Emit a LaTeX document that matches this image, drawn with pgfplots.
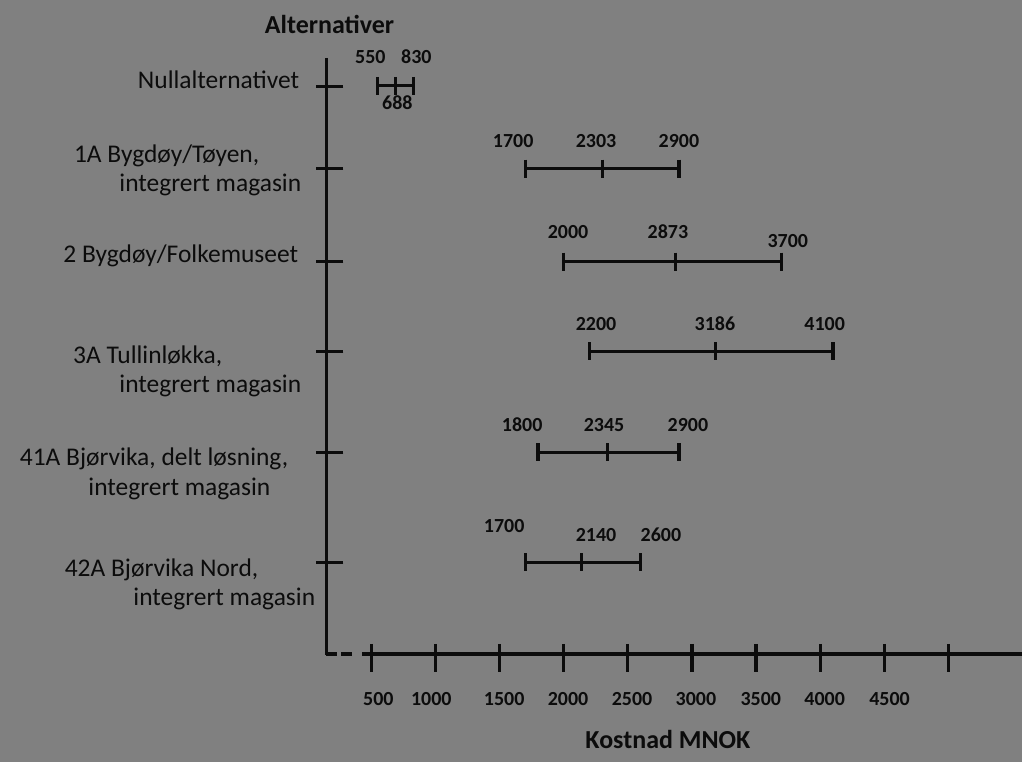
\documentclass[border=0pt]{standalone}
\usepackage{pgfplots}
\pgfplotsset{compat=1.18}
\usepackage{fontspec}
\setmainfont{Carlito}
\definecolor{bg}{RGB}{128,128,128}
\definecolor{ink}{RGB}{12,12,12}
\newcommand{\PX}[1]{((#1)-307.5)/0.1285}
\tikzset{
  rangebar/.style={ink, line width=1.6pt, mark=|, mark size=4.5pt, mark options={solid, line width=1.6pt}},
  catlbl/.style={anchor=base east, inner sep=0pt, text=ink, font=\fontsize{12.75}{15}\selectfont},
  vallbl/.style={anchor=base, inner sep=0pt, text=ink, font=\bfseries\fontsize{10}{12}\selectfont},
  ttl/.style={anchor=base west, inner sep=0pt, text=ink, font=\bfseries\fontsize{13}{15}\selectfont},
}
\begin{document}
\begin{tikzpicture}
\begin{axis}[
  scale only axis, width=512pt, height=381.5pt,
  xmin=-2393, xmax=5576, ymin=0, ymax=763, y dir=reverse,
  hide axis, clip=false,
]
\fill[bg] (rel axis cs:0,0) rectangle (rel axis cs:1,1);

% axis lines
\addplot[ink, line width=1.6pt] coordinates {(151.75,58) (151.75,656)};
\addplot[ink, line width=1.6pt, dash pattern=on 5.5pt off 2pt] coordinates {(151.75,655) (354,655)};
\addplot[ink, line width=1.6pt] coordinates {(432,655) (5576,655)};
\addplot[ink, only marks, mark=|, mark size=7pt, mark options={line width=1.6pt}] coordinates {
(500,659) (1000,659) (1500,659) (2000,659) (2500,659) (3000,659) (3500,659) (4000,659) (4500,659) (5000,659)};
\addplot[ink, only marks, mark=-, mark size=7pt, mark options={line width=1.6pt}] coordinates {
(175.1,87) (175.1,169) (175.1,262) (175.1,352) (175.1,453) (175.1,563)};

% cost ranges (low, expected, high)
\addplot[rangebar] coordinates {(550,86) (688,86) (830,86)};
\addplot[rangebar] coordinates {(1700,169) (2303,169) (2900,169)};
\addplot[rangebar] coordinates {(2000,262) (2873,262) (3700,262)};
\addplot[rangebar] coordinates {(2200,352) (3186,352) (4100,352)};
\addplot[rangebar] coordinates {(1800,453) (2345,453) (2900,453)};
\addplot[rangebar] coordinates {(1700,563) (2140,563) (2600,563)};

% value labels
\node[vallbl] at (axis cs:{\PX{371}},64) {550};
\node[vallbl] at (axis cs:{\PX{417}},64) {830};
\node[vallbl] at (axis cs:{\PX{398}},110) {688};
\node[vallbl] at (axis cs:{\PX{514}},148) {1700};
\node[vallbl] at (axis cs:{\PX{597}},148) {2303};
\node[vallbl] at (axis cs:{\PX{680}},148) {2900};
\node[vallbl] at (axis cs:{\PX{569}},239) {2000};
\node[vallbl] at (axis cs:{\PX{669}},239) {2873};
\node[vallbl] at (axis cs:{\PX{789}},248) {3700};
\node[vallbl] at (axis cs:{\PX{597}},331) {2200};
\node[vallbl] at (axis cs:{\PX{716}},331) {3186};
\node[vallbl] at (axis cs:{\PX{826}},331) {4100};
\node[vallbl] at (axis cs:{\PX{523}},432) {1800};
\node[vallbl] at (axis cs:{\PX{605}},432) {2345};
\node[vallbl] at (axis cs:{\PX{689}},432) {2900};
\node[vallbl] at (axis cs:{\PX{505}},533) {1700};
\node[vallbl] at (axis cs:{\PX{597}},542) {2140};
\node[vallbl] at (axis cs:{\PX{662}},542) {2600};

% tick labels
\node[vallbl] at (axis cs:{\PX{379}},707) {500};
\node[vallbl] at (axis cs:{\PX{432}},707) {1000};
\node[vallbl] at (axis cs:{\PX{505}},707) {1500};
\node[vallbl] at (axis cs:{\PX{569}},707) {2000};
\node[vallbl] at (axis cs:{\PX{633}},707) {2500};
\node[vallbl] at (axis cs:{\PX{697}},707) {3000};
\node[vallbl] at (axis cs:{\PX{762}},707) {3500};
\node[vallbl] at (axis cs:{\PX{826}},707) {4000};
\node[vallbl] at (axis cs:{\PX{891}},707) {4500};

% category labels
\node[catlbl] at (axis cs:{\PX{300}},89) {Nullalternativet};
\node[catlbl] at (axis cs:{\PX{260}},163) {1A Bygdøy/Tøyen,};
\node[catlbl] at (axis cs:{\PX{302}},192) {integrert magasin};
\node[catlbl] at (axis cs:{\PX{299}},263) {2 Bygdøy/Folkemuseet};
\node[catlbl] at (axis cs:{\PX{223}},364) {3A Tullinløkka,};
\node[catlbl] at (axis cs:{\PX{302}},393) {integrert magasin};
\node[catlbl] at (axis cs:{\PX{289}},466) {41A Bjørvika, delt løsning,};
\node[catlbl] at (axis cs:{\PX{271}},496) {integrert magasin};
\node[catlbl] at (axis cs:{\PX{259}},577) {42A Bjørvika Nord,};
\node[catlbl] at (axis cs:{\PX{316}},606) {integrert magasin};

% titles
\node[ttl] at (axis cs:{\PX{265}},34) {Alternativer};
\node[ttl] at (axis cs:{\PX{586}},750) {Kostnad MNOK};
\end{axis}
\end{tikzpicture}
\end{document}
